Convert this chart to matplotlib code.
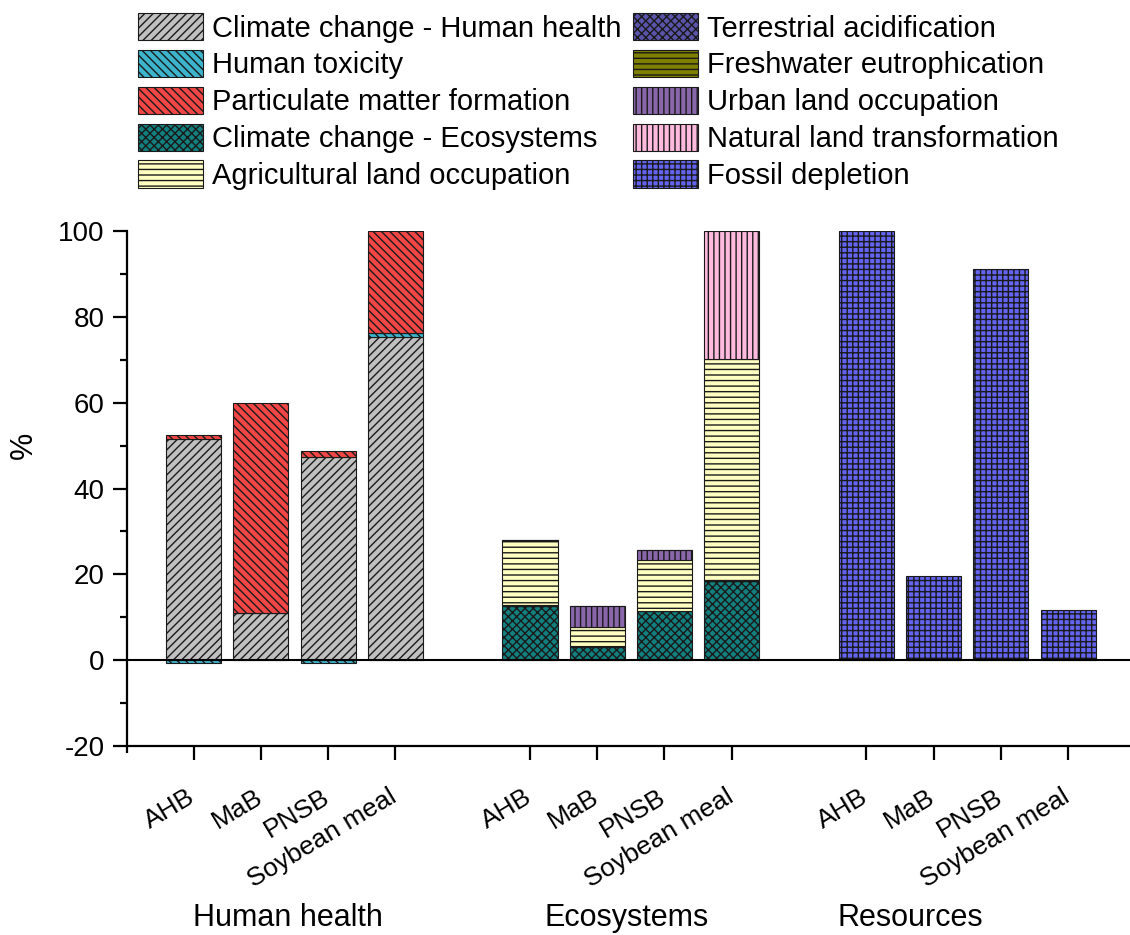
import numpy as np
import matplotlib
matplotlib.use('Agg')
import matplotlib.pyplot as plt
from matplotlib.transforms import blended_transform_factory

plt.rcParams['font.family'] = ['Liberation Sans', 'DejaVu Sans']
plt.rcParams['hatch.linewidth'] = 1.0
plt.rcParams['axes.unicode_minus'] = False

feedstocks = ['AHB', 'MaB', 'PNSB', 'Soybean meal']
groups = ['Human health', 'Ecosystems', 'Resources']

# contributions in %, one value per feedstock
cc_human_health = [51.5, 11.0, 47.3, 75.3]
human_toxicity = [-0.7, 0.0, -0.7, 1.0]
particulate_matter = [1.0, 49.0, 1.5, 23.7]
cc_ecosystems = [12.6, 3.0, 11.4, 18.4]
terrestrial_acid = [0.1, 0.3, 0.1, 0.0]
freshwater_eutro = [0.05, 0.05, 0.05, 0.0]
agri_land = [15.0, 4.5, 11.7, 51.9]
urban_land = [0.3, 4.8, 2.5, 0.0]
natural_land = [0.0, 0.0, 0.0, 29.7]
fossil_depletion = [100.0, 19.7, 91.1, 11.7]

# (label, values, group index, face colour, hatch) in stacking order
series = [
    ('Climate change - Human health', cc_human_health, 0, '#c0c0c0', '////'),
    ('Human toxicity', human_toxicity, 0, '#3cb4cc', '\\\\\\\\'),
    ('Particulate matter formation', particulate_matter, 0, '#f24646', '\\\\\\\\'),
    ('Climate change - Ecosystems', cc_ecosystems, 1, '#12807f', 'xxxx'),
    ('Terrestrial acidification', terrestrial_acid, 1, '#5a54aa', 'xxxx'),
    ('Freshwater eutrophication', freshwater_eutro, 1, '#808000', '---'),
    ('Agricultural land occupation', agri_land, 1, '#ffffc2', '---'),
    ('Urban land occupation', urban_land, 1, '#8a66aa', '|||'),
    ('Natural land transformation', natural_land, 1, '#ffbade', '|||'),
    ('Fossil depletion', fossil_depletion, 2, '#6464f2', '+++'),
]
legend_order = [
    'Climate change - Human health', 'Human toxicity', 'Particulate matter formation',
    'Climate change - Ecosystems', 'Agricultural land occupation',
    'Terrestrial acidification', 'Freshwater eutrophication', 'Urban land occupation',
    'Natural land transformation', 'Fossil depletion',
]

fig = plt.figure(figsize=(11.3, 9.35), dpi=100)
ax = fig.add_axes([0.1124, 0.2021, 0.8876, 0.5508])

n = len(feedstocks)
width = 0.82
pos_bottom = np.zeros((len(groups), n))
neg_bottom = np.zeros((len(groups), n))
handles = {}
for label, vals, g, color, hatch in series:
    vals = np.array(vals)
    x = g * (n + 1) + np.arange(n)
    bottom = np.where(vals >= 0, pos_bottom[g], neg_bottom[g])
    bars = ax.bar(x, vals, width, bottom=bottom, color=color, hatch=hatch,
                  edgecolor='#1a1a1a', linewidth=0.8, label=label)
    handles[label] = bars
    pos_bottom[g] += np.where(vals > 0, vals, 0)
    neg_bottom[g] += np.where(vals < 0, vals, 0)

ax.axhline(0, color='black', lw=1.5, zorder=3)

ax.set_xlim(-0.99, 13.92)
ax.set_ylim(-20, 100)
ax.set_yticks(np.arange(-20, 101, 20))
ax.set_yticks(np.arange(-10, 100, 20), minor=True)

xt = np.concatenate([g * (n + 1) + np.arange(n) for g in range(len(groups))])
ax.set_xticks(xt)
ax.set_xticklabels([])
ax.set_xticks([-0.99], minor=True)

# rotated feedstock names hanging under each tick
trans = blended_transform_factory(ax.transData, ax.transAxes)
for xi, name in zip(xt, feedstocks * len(groups)):
    ax.annotate(name, (xi, 0), xycoords=trans, xytext=(4, -28),
                textcoords='offset points', rotation=31, ha='right', va='top',
                fontsize=19)

for s in ['top', 'right']:
    ax.spines[s].set_visible(False)
for s in ['left', 'bottom']:
    ax.spines[s].set_linewidth(1.6)
ax.tick_params(axis='both', which='major', direction='out', length=10, width=1.6)
ax.tick_params(axis='both', which='minor', direction='out', length=5, width=1.6)
ax.tick_params(axis='y', labelsize=20, pad=6)

ax.set_ylabel('%', fontsize=22)
ax.yaxis.set_label_coords(-0.088, 0.584)

# group names under the feedstock labels
for name, xg in zip(groups, [1.4, 6.43, 10.65]):
    ax.text(xg, -0.333, name, transform=trans, ha='center', va='center', fontsize=22)

fig.legend([handles[k] for k in legend_order], legend_order, ncol=2,
           loc='upper left', bbox_to_anchor=(138 / 1130, 1 - 13 / 935),
           frameon=False, fontsize=21, handlelength=2.23, handleheight=1.06,
           labelspacing=0.25, handletextpad=0.3, columnspacing=0.4, borderpad=0,
           borderaxespad=0)

plt.savefig('out.png', dpi=100)
